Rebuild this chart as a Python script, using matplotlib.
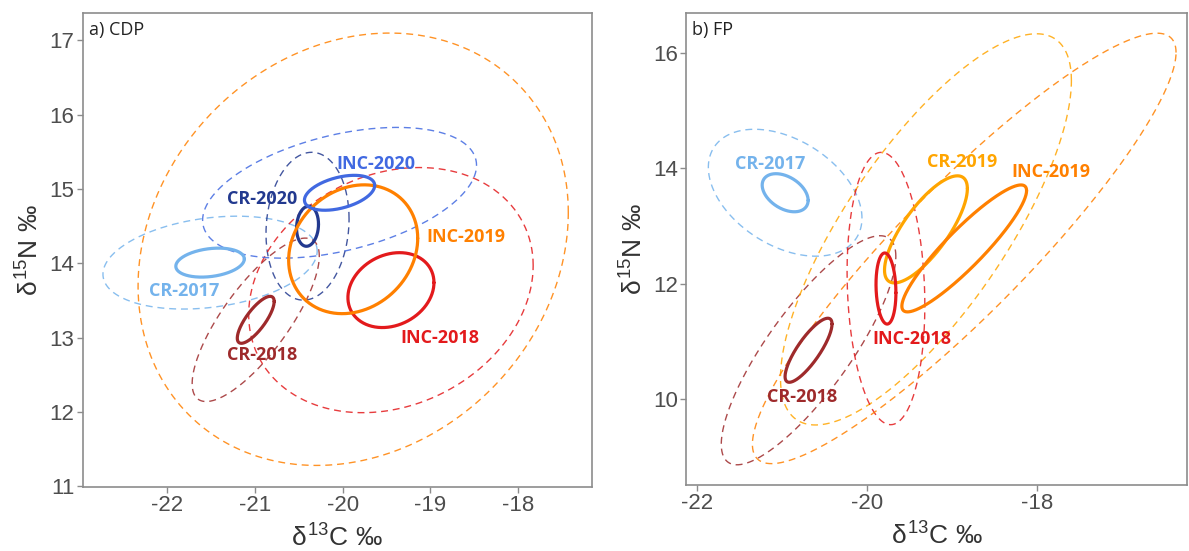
import numpy as np
import matplotlib
matplotlib.use("Agg")
import matplotlib.pyplot as plt

plt.rcParams['font.family'] = ['Liberation Sans', 'DejaVu Sans']
plt.rcParams['mathtext.fontset'] = 'custom'
plt.rcParams['mathtext.rm'] = 'Liberation Sans'
plt.rcParams['mathtext.it'] = 'Liberation Sans'

# ---------------- data: panel a) CDP ----------------
cdp_groups = ["CR-2017", "CR-2018", "CR-2020", "INC-2018", "INC-2019", "INC-2020"]
cdp_mean_c = [-21.51, -20.99, -20.40, -19.45, -19.88, -20.035]
cdp_mean_n = [14.01, 13.24, 14.50, 13.64, 14.19, 14.95]
cdp_rho = [0.25, 0.78, 0.10, 0.20, 0.17, 0.42]
cdp_sea_sc = [0.39, 0.21, 0.125, 0.49, 0.735, 0.40]
cdp_sea_sn = [0.195, 0.316, 0.27, 0.504, 0.867, 0.235]
cdp_pred_sc = [1.22, 0.724, 0.473, 1.62, 2.45, 1.56]
cdp_pred_sn = [0.625, 1.10, 0.995, 1.65, 2.91, 0.88]
cdp_label_c = [-21.81, -20.92, -20.92, -18.89, -18.60, -19.62]
cdp_label_n = [13.63, 12.77, 14.87, 12.99, 14.35, 15.34]

# ---------------- data: panel b) FP ----------------
fp_groups = ["CR-2017", "CR-2018", "CR-2019", "INC-2018", "INC-2019"]
fp_mean_c = [-20.965, -20.69, -19.31, -19.78, -18.86]
fp_mean_n = [13.575, 10.845, 12.94, 11.915, 12.61]
fp_rho = [-0.40, 0.82, 0.76, -0.12, 0.91]
fp_sea_sc = [0.27, 0.276, 0.487, 0.117, 0.733]
fp_sea_sn = [0.33, 0.555, 0.928, 0.616, 1.10]
fp_pred_sc = [0.903, 1.026, 1.71, 0.457, 2.49]
fp_pred_sn = [1.10, 1.985, 3.39, 2.36, 3.73]
fp_label_c = [-21.14, -20.77, -18.89, -19.47, -17.84]
fp_label_n = [14.07, 10.03, 14.11, 11.04, 13.94]

group_colors = {
    "CR-2017": "#74B3EC",
    "CR-2018": "#9E2A2B",
    "CR-2019": "#FFA500",
    "CR-2020": "#22398F",
    "INC-2018": "#E31A1C",
    "INC-2019": "#FF8000",
    "INC-2020": "#4169E1",
}

cdp_xticks = [-22, -21, -20, -19, -18]
cdp_yticks = [11, 12, 13, 14, 15, 16, 17]
fp_xticks = [-22, -20, -18]
fp_yticks = [10, 12, 14, 16]


def ellipse(cx, cy, sx, sy, rho, n=400):
    t = np.linspace(0, 2 * np.pi, n)
    x = cx + sx * np.cos(t)
    y = cy + sy * (rho * np.cos(t) + np.sqrt(1 - rho ** 2) * np.sin(t))
    return x, y


fig = plt.figure(figsize=(11.89, 5.51), dpi=100)
ax1 = fig.add_axes([0.0696, 0.1162, 0.4283, 0.8602])
ax2 = fig.add_axes([0.577, 0.1198, 0.4214, 0.8566])


def draw_panel(ax, groups, mc, mn, rho, ssc, ssn, psc, psn, lc, ln):
    for g, cx, cy, r, sx, sy in zip(groups, mc, mn, rho, psc, psn):
        x, y = ellipse(cx, cy, sx, sy, r)
        ax.plot(x, y, color=group_colors[g], lw=1.0, alpha=0.85,
                dashes=(5, 3.5))
    for g, cx, cy, r, sx, sy in zip(groups, mc, mn, rho, ssc, ssn):
        x, y = ellipse(cx, cy, sx, sy, r)
        ax.plot(x, y, color=group_colors[g], lw=2.3, solid_capstyle='round')
    for g, x, y in zip(groups, lc, ln):
        ax.text(x, y, g, color=group_colors[g], fontsize=13, fontweight='bold',
                family=['Open Sans', 'DejaVu Sans'], ha='center', va='center')


draw_panel(ax1, cdp_groups, cdp_mean_c, cdp_mean_n, cdp_rho, cdp_sea_sc,
           cdp_sea_sn, cdp_pred_sc, cdp_pred_sn, cdp_label_c, cdp_label_n)
draw_panel(ax2, fp_groups, fp_mean_c, fp_mean_n, fp_rho, fp_sea_sc,
           fp_sea_sn, fp_pred_sc, fp_pred_sn, fp_label_c, fp_label_n)

ax1.set_xlim(-22.96, -17.16)
ax1.set_ylim(10.99, 17.37)
ax1.set_xticks(cdp_xticks)
ax1.set_yticks(cdp_yticks)
ax2.set_xlim(-22.13, -16.24)
ax2.set_ylim(8.51, 16.69)
ax2.set_xticks(fp_xticks)
ax2.set_yticks(fp_yticks)

for ax, title in ((ax1, "a) CDP"), (ax2, "b) FP")):
    for s in ax.spines.values():
        s.set_color('#8C8C8C')
        s.set_linewidth(1.2)
    ax.tick_params(direction='out', length=4, width=1.0, color='#8C8C8C',
                   labelsize=16, labelcolor='#4D4D4D', pad=2)
    ax.set_xticklabels([f"{t:g}" for t in ax.get_xticks()])
    ax.text(0.012, 0.983, title, transform=ax.transAxes, ha='left', va='top',
            fontsize=13, color='#222222', family=['Open Sans', 'DejaVu Sans'])
    ax.set_xlabel(r'$\delta^{13}$C ‰', fontsize=19, color='#333333', labelpad=6)
    ax.set_ylabel(r'$\delta^{15}$N ‰', fontsize=19, color='#333333', labelpad=4)

fig.savefig("out.png", dpi=100)
